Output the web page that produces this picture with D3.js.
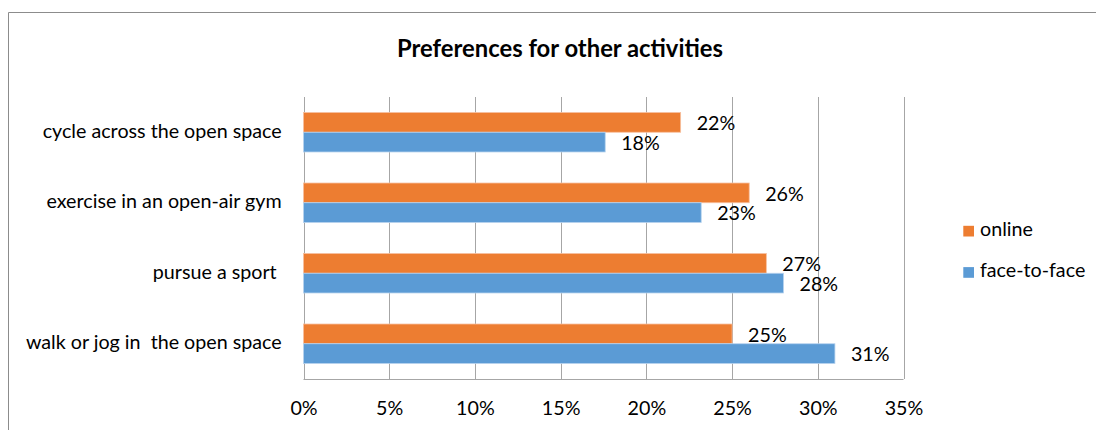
<!DOCTYPE html>
<html>
<head>
<meta charset="utf-8">
<script src="https://cdn.jsdelivr.net/npm/d3@7"></script>
<style>
  body { margin: 0; background: #fff; }
  svg { display: block; font-family: Lato, sans-serif; }
</style>
</head>
<body>
<svg class="chartContainer" width="1096" height="430"></svg>
<script>
const categories = ['cycle across the open space', 'exercise in an open-air gym', 'pursue a sport ', 'walk or jog in  the open space']
const seriesNames = ['online', 'face-to-face']
const online = [22, 26, 27, 25]
const faceToFace = [17.6, 23.2, 28, 31]
const labelsOnline = ['22%', '26%', '27%', '25%']
const labelsFace = ['18%', '23%', '28%', '31%']
const xTicks = [0, 5, 10, 15, 20, 25, 30, 35]

const colors = { 'online': '#ED7D31', 'face-to-face': '#5B9BD5' }
const margin = { top: 97, left: 303.5, right: 192.5, bottom: 51 }
const width = 1096
const height = 430
const fontSize = '19.7px'
const fontFamily = 'Lato, sans-serif'

const svg = d3.select('svg.chartContainer')

// outer chart border (right and bottom edges run off the page)
svg.append('path')
  .attr('d', `M8.5,${height} V12.5 H${width}`)
  .attr('fill', 'none')
  .attr('stroke', '#8c8c8c')
  .attr('stroke-width', 1)

svg.append('text')
  .attr('x', 560)
  .attr('y', 57.3)
  .attr('text-anchor', 'middle')
  .style('font-size', '23.8px')
  .style('font-weight', 'bold')
  .text('Preferences for other activities')

// scales work in page coordinates, no translated group
const x = d3.scaleLinear().domain([0, 35]).range([margin.left, width - margin.right])
const y = d3.scaleBand().domain(categories).range([margin.top, height - margin.bottom])
  .paddingInner(0.44).paddingOuter(0.22)
const ySub = d3.scaleBand().domain(seriesNames).range([0, y.bandwidth()])
const plotBottom = height - margin.bottom

// gridlines
svg.selectAll('line.grid').data(xTicks).enter().append('line')
  .attr('class', 'grid')
  .attr('x1', d => Math.round(x(d)) + 0.5).attr('x2', d => Math.round(x(d)) + 0.5)
  .attr('y1', margin.top).attr('y2', plotBottom)
  .attr('stroke', '#a6a6a6')

// bottom axis line
svg.append('line')
  .attr('x1', x(0)).attr('x2', x(35))
  .attr('y1', plotBottom + 0.5).attr('y2', plotBottom + 0.5)
  .attr('stroke', '#a6a6a6')

// x tick labels
const xAxis = d3.axisBottom(x).tickValues(xTicks).tickFormat(d => `${d}%`).tickSize(0).tickPadding(22)
const xAxisG = svg.append('g')
  .attr('transform', `translate(0,${plotBottom})`)
  .call(xAxis)
xAxisG.select('.domain').remove()
xAxisG.selectAll('text').style('font-size', fontSize).attr('fill', '#000').style('font-family', fontFamily)

// category labels
const yAxis = d3.axisLeft(y).tickSize(0).tickPadding(21.8)
const yAxisG = svg.append('g')
  .attr('transform', `translate(${margin.left},0)`)
  .call(yAxis)
yAxisG.select('.domain').remove()
yAxisG.selectAll('text')
  .attr('xml:space', 'preserve')
  .attr('dy', '0.28em')
  .style('font-size', fontSize).attr('fill', '#000').style('font-family', fontFamily)

const points = []
categories.forEach((c, i) => {
  points.push({ category: c, series: 'online', value: online[i], label: labelsOnline[i] })
  points.push({ category: c, series: 'face-to-face', value: faceToFace[i], label: labelsFace[i] })
})
const barY = d => y(d.category) + ySub(d.series)

svg.selectAll('rect.bar').data(points).enter().append('rect')
  .attr('class', 'bar')
  .attr('x', x(0))
  .attr('y', barY)
  .attr('width', d => x(d.value) - x(0))
  .attr('height', ySub.bandwidth())
  .attr('fill', d => colors[d.series])
  .attr('stroke', d => d.series === 'online' ? '#f7c0a0' : '#b7d3ee')
  .attr('stroke-width', 0.8)

svg.selectAll('text.val').data(points).enter().append('text')
  .attr('class', 'val')
  .attr('x', d => x(d.value) + 16)
  .attr('y', d => barY(d) + ySub.bandwidth() / 2)
  .attr('dy', '0.39em')
  .style('font-size', fontSize)
  .text(d => d.label)

// legend
const legend = svg.append('g').attr('transform', 'translate(963.3,0)')
const legendBase = [236, 277.3]
seriesNames.forEach((s, i) => {
  legend.append('rect')
    .attr('x', 0).attr('y', legendBase[i] - 10.2)
    .attr('width', 10.7).attr('height', 10.7)
    .attr('fill', colors[s])
  legend.append('text')
    .attr('x', 16.7).attr('y', legendBase[i])
    .style('font-size', fontSize)
    .text(s)
})
</script>
</body>
</html>
